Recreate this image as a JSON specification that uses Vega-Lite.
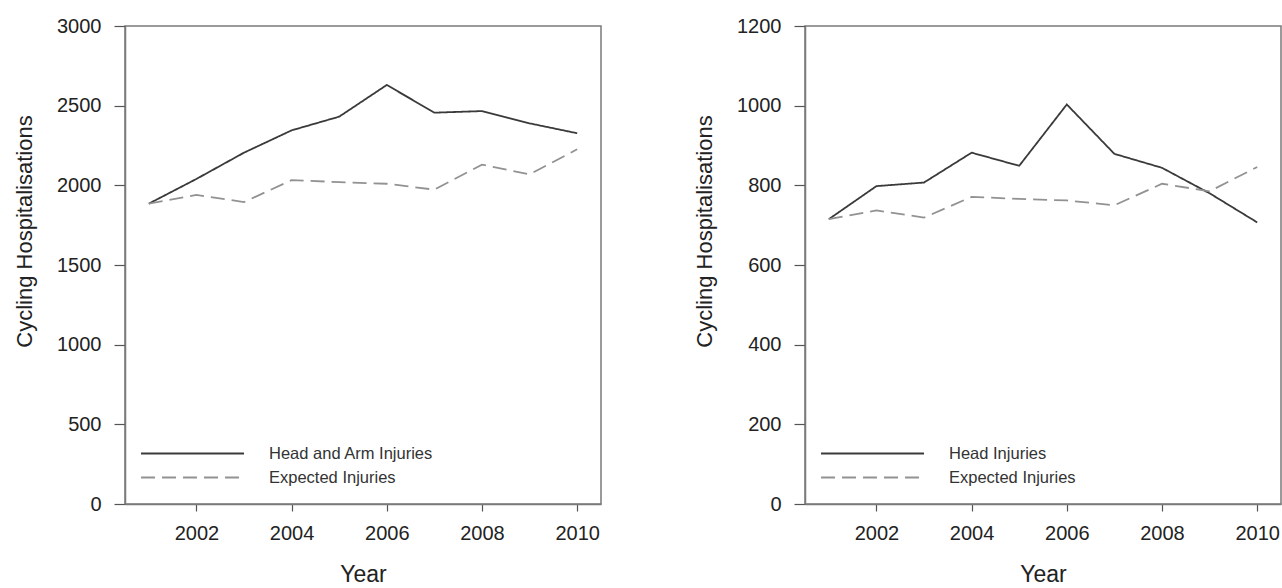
{
  "$schema": "https://vega.github.io/schema/vega-lite/v6.json",
  "padding": {"top": 15, "left": 12, "right": 0, "bottom": 0},
  "spacing": 90,
  "background": "white",
  "resolve": {"scale": {"color": "independent", "strokeDash": "independent"}},
  "datasets": {
    "d": [
      {"panel": "A", "year": 2001, "series": "Head and Arm Injuries", "value": 1885},
      {"panel": "A", "year": 2002, "series": "Head and Arm Injuries", "value": 2040},
      {"panel": "A", "year": 2003, "series": "Head and Arm Injuries", "value": 2205},
      {"panel": "A", "year": 2004, "series": "Head and Arm Injuries", "value": 2345},
      {"panel": "A", "year": 2005, "series": "Head and Arm Injuries", "value": 2431},
      {"panel": "A", "year": 2006, "series": "Head and Arm Injuries", "value": 2630},
      {"panel": "A", "year": 2007, "series": "Head and Arm Injuries", "value": 2456},
      {"panel": "A", "year": 2008, "series": "Head and Arm Injuries", "value": 2466},
      {"panel": "A", "year": 2009, "series": "Head and Arm Injuries", "value": 2389},
      {"panel": "A", "year": 2010, "series": "Head and Arm Injuries", "value": 2327},
      {"panel": "A", "year": 2001, "series": "Expected Injuries", "value": 1885},
      {"panel": "A", "year": 2002, "series": "Expected Injuries", "value": 1940},
      {"panel": "A", "year": 2003, "series": "Expected Injuries", "value": 1895},
      {"panel": "A", "year": 2004, "series": "Expected Injuries", "value": 2033},
      {"panel": "A", "year": 2005, "series": "Expected Injuries", "value": 2020},
      {"panel": "A", "year": 2006, "series": "Expected Injuries", "value": 2010},
      {"panel": "A", "year": 2007, "series": "Expected Injuries", "value": 1973},
      {"panel": "A", "year": 2008, "series": "Expected Injuries", "value": 2130},
      {"panel": "A", "year": 2009, "series": "Expected Injuries", "value": 2069},
      {"panel": "A", "year": 2010, "series": "Expected Injuries", "value": 2226},
      {"panel": "B", "year": 2001, "series": "Head Injuries", "value": 715},
      {"panel": "B", "year": 2002, "series": "Head Injuries", "value": 798},
      {"panel": "B", "year": 2003, "series": "Head Injuries", "value": 807},
      {"panel": "B", "year": 2004, "series": "Head Injuries", "value": 882},
      {"panel": "B", "year": 2005, "series": "Head Injuries", "value": 849},
      {"panel": "B", "year": 2006, "series": "Head Injuries", "value": 1003},
      {"panel": "B", "year": 2007, "series": "Head Injuries", "value": 879},
      {"panel": "B", "year": 2008, "series": "Head Injuries", "value": 844},
      {"panel": "B", "year": 2009, "series": "Head Injuries", "value": 780},
      {"panel": "B", "year": 2010, "series": "Head Injuries", "value": 707},
      {"panel": "B", "year": 2001, "series": "Expected Injuries", "value": 715},
      {"panel": "B", "year": 2002, "series": "Expected Injuries", "value": 737},
      {"panel": "B", "year": 2003, "series": "Expected Injuries", "value": 719},
      {"panel": "B", "year": 2004, "series": "Expected Injuries", "value": 771},
      {"panel": "B", "year": 2005, "series": "Expected Injuries", "value": 766},
      {"panel": "B", "year": 2006, "series": "Expected Injuries", "value": 762},
      {"panel": "B", "year": 2007, "series": "Expected Injuries", "value": 750},
      {"panel": "B", "year": 2008, "series": "Expected Injuries", "value": 804},
      {"panel": "B", "year": 2009, "series": "Expected Injuries", "value": 785},
      {"panel": "B", "year": 2010, "series": "Expected Injuries", "value": 846}
    ]
  },
  "config": {
    "font": "Liberation Sans",
    "view": {"stroke": "#7a7a7a", "strokeWidth": 1.5},
    "axis": {
      "grid": false,
      "domainColor": "#7a7a7a",
      "domainWidth": 1.5,
      "tickColor": "#555555",
      "tickWidth": 1.2,
      "labelFont": "Liberation Sans",
      "labelFontSize": 20,
      "labelColor": "#222222",
      "titleFont": "Liberation Sans",
      "titleFontSize": 22,
      "titleFontWeight": "normal",
      "titleColor": "#222222"
    },
    "axisX": {"titleFontSize": 23},
    "legend": {
      "labelFont": "Liberation Sans",
      "labelFontSize": 16.5,
      "labelColor": "#333333",
      "labelLimit": 400
    }
  },
  "hconcat": [
    {
      "width": 476,
      "height": 478,
      "data": {"name": "d"},
      "transform": [{"filter": "datum.panel == 'A'"}],
      "mark": {"type": "line", "strokeWidth": 1.8},
      "encoding": {
        "x": {
          "field": "year", "type": "quantitative", "title": "Year",
          "scale": {"domain": [2000.5, 2010.5], "nice": false, "zero": false},
          "axis": {"values": [2002, 2004, 2006, 2008, 2010], "format": "d", "tickSize": 7, "labelPadding": 12, "titlePadding": 20, "labelFlush": false}
        },
        "y": {
          "field": "value", "type": "quantitative", "title": "Cycling Hospitalisations",
          "scale": {"domain": [0, 3000], "nice": false},
          "axis": {"values": [0, 500, 1000, 1500, 2000, 2500, 3000], "format": "d", "tickSize": 11, "labelPadding": 13, "titlePadding": 20, "titleY": 205}
        },
        "color": {
          "field": "series", "type": "nominal",
          "scale": {"domain": ["Head and Arm Injuries", "Expected Injuries"], "range": ["#3a3a3a", "#929292"]},
          "legend": {"title": null, "orient": "none", "legendX": 56, "legendY": 416, "symbolType": "M-5,0H5", "symbolSize": 424, "symbolStrokeWidth": 1.8, "labelOffset": 65, "rowPadding": 4}
        },
        "strokeDash": {
          "field": "series", "type": "nominal",
          "scale": {"domain": ["Head and Arm Injuries", "Expected Injuries"], "range": [[1, 0], [14, 7]]},
          "legend": {"title": null, "orient": "none", "legendX": 56, "legendY": 416, "symbolType": "M-5,0H5", "symbolSize": 424, "symbolStrokeWidth": 1.8, "labelOffset": 65, "rowPadding": 4}
        }
      }
    },
    {
      "width": 476,
      "height": 478,
      "data": {"name": "d"},
      "transform": [{"filter": "datum.panel == 'B'"}],
      "mark": {"type": "line", "strokeWidth": 1.8},
      "encoding": {
        "x": {
          "field": "year", "type": "quantitative", "title": "Year",
          "scale": {"domain": [2000.5, 2010.5], "nice": false, "zero": false},
          "axis": {"values": [2002, 2004, 2006, 2008, 2010], "format": "d", "tickSize": 7, "labelPadding": 12, "titlePadding": 20, "labelFlush": false}
        },
        "y": {
          "field": "value", "type": "quantitative", "title": "Cycling Hospitalisations",
          "scale": {"domain": [0, 1200], "nice": false},
          "axis": {"values": [0, 200, 400, 600, 800, 1000, 1200], "format": "d", "tickSize": 11, "labelPadding": 13, "titlePadding": 20, "titleY": 205}
        },
        "color": {
          "field": "series", "type": "nominal",
          "scale": {"domain": ["Head Injuries", "Expected Injuries"], "range": ["#3a3a3a", "#929292"]},
          "legend": {"title": null, "orient": "none", "legendX": 56, "legendY": 416, "symbolType": "M-5,0H5", "symbolSize": 424, "symbolStrokeWidth": 1.8, "labelOffset": 65, "rowPadding": 4}
        },
        "strokeDash": {
          "field": "series", "type": "nominal",
          "scale": {"domain": ["Head Injuries", "Expected Injuries"], "range": [[1, 0], [14, 7]]},
          "legend": {"title": null, "orient": "none", "legendX": 56, "legendY": 416, "symbolType": "M-5,0H5", "symbolSize": 424, "symbolStrokeWidth": 1.8, "labelOffset": 65, "rowPadding": 4}
        }
      }
    }
  ]
}
